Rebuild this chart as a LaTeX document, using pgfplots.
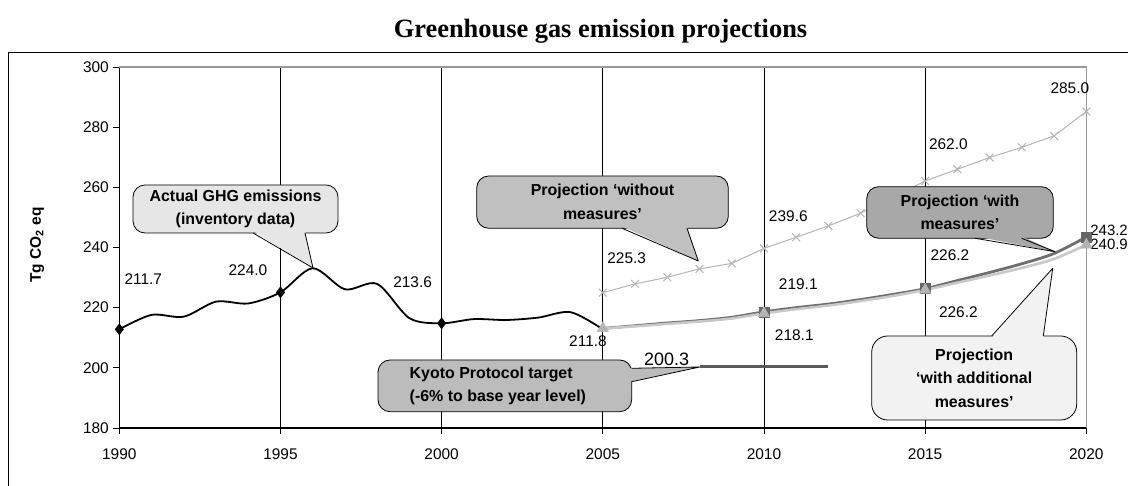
\documentclass[border=0pt]{standalone}
\usepackage{pgfplots}
\pgfplotsset{compat=1.18}
\usepackage{pgfplotstable}
\usepackage{fontspec}
\setmainfont{Liberation Sans}
\newfontfamily\titlefont{Liberation Serif}
\definecolor{nomcol}{HTML}{B4B4B4}
\definecolor{wmcol}{HTML}{6E6E6E}
\definecolor{wmmark}{HTML}{666666}
\definecolor{wamcol}{HTML}{C8C8C8}
\definecolor{wammark}{HTML}{B4B4B4}
\definecolor{kyotocol}{HTML}{5A5A5A}
\definecolor{bordergray}{HTML}{999999}
\definecolor{cActual}{HTML}{E6E6E6}
\definecolor{cWithout}{HTML}{C0C0C0}
\definecolor{cWM}{HTML}{A8A8A8}
\definecolor{cWAM}{HTML}{F2F2F2}
\definecolor{cKyoto}{HTML}{BCBCBC}

\pgfplotstableread{
year val
1990 212.8
1991 217.6
1992 217.0
1993 222.0
1994 221.4
1995 225.1
1996 233.1
1997 226.1
1998 227.9
1999 216.5
2000 214.8
2001 216.2
2002 215.9
2003 216.7
2004 218.5
2005 212.8
}\actual

\pgfplotstableread{
year val
2005 225.0
2006 227.9
2007 230.1
2008 232.9
2009 234.7
2010 239.7
2011 243.4
2012 247.2
2013 251.4
2014 256.7
2015 262.1
2016 266.0
2017 269.9
2018 273.3
2019 277.1
2020 285.2
}\without

\pgfplotstableread{
year val
2005 213.1
2006 214.0
2007 214.9
2008 215.7
2009 216.8
2010 218.6
2011 220.0
2012 221.2
2013 222.7
2014 224.4
2015 226.3
2016 229.0
2017 231.7
2018 234.6
2019 238.0
2020 243.5
}\wm

\pgfplotstableread{
year val
2005 213.1
2006 213.8
2007 214.6
2008 215.4
2009 216.4
2010 218.1
2011 219.5
2012 220.7
2013 222.2
2014 223.9
2015 225.9
2016 228.3
2017 230.7
2018 233.2
2019 236.2
2020 240.9
}\wam

\begin{document}
\begin{tikzpicture}[x=1bp,y=1bp]
\useasboundingbox (0,0) rectangle (1128,486);
\begin{axis}[
  scale only axis, width=967bp, height=361bp,
  at={(119.3bp,58bp)}, anchor=south west,
  xmin=1990, xmax=2020, ymin=180, ymax=300,
  xtick={1990,1995,...,2020}, ytick={180,200,...,300},
  axis lines=left, axis line style={-, black, line width=1.1bp},
  tick align=outside, major tick length=6bp,
  tick style={black, line width=0.9bp},
  xmajorgrids, major grid style={black, line width=0.8bp},
  /pgf/number format/1000 sep={},
  /pgf/number format/assume math mode=true,
  /pgf/number format/fixed,
  ticklabel style={font=\fontsize{15.5}{18}\selectfont},
  xticklabel style={yshift=-11bp},
  yticklabel style={xshift=-1bp},
  clip=false,
]
\draw[bordergray, line width=1.2bp] (axis cs:1990,300) -- (axis cs:2020,300) -- (axis cs:2020,180);

\addplot[black, line width=1.8bp, smooth, mark=diamond*, mark size=4.5bp,
  mark indices={1,6,11}, mark options={fill=black}] table[x=year,y=val] {\actual};

\addplot[nomcol, line width=1bp, mark=x, mark size=5.5bp,
  mark options={line width=1bp}] table[x=year,y=val] {\without};

\addplot[wmcol, line width=2.8bp, smooth, mark=square*, mark size=5bp,
  mark indices={6,11,16}, mark options={fill=wmmark, draw=wmmark, line width=0.5bp}]
  table[x=year,y=val] {\wm};

\addplot[wamcol, line width=2.6bp, smooth, mark=triangle*, mark size=6.5bp,
  mark indices={1,6,11,16}, mark options={fill=wammark, draw=wammark, line width=0.5bp}]
  table[x=year,y=val] {\wam};

\addplot[kyotocol, line width=3bp] coordinates {(2008,200.3) (2012,200.3)};

\begin{scope}[font=\fontsize{15.5}{18}\selectfont]
\node at (axis cs:1990.745,229.43) {211.7};
\node at (axis cs:1993.99,232.52) {224.0};
\node at (axis cs:1999.10,228.43) {213.6};
\node at (axis cs:2004.54,209.02) {211.8};
\node at (axis cs:2005.74,236.41) {225.3};
\node[font=\fontsize{18}{20}\selectfont] at (axis cs:2006.98,202.84) {200.3};
\node at (axis cs:2010.755,250.57) {239.6};
\node at (axis cs:2011.065,227.87) {219.1};
\node at (axis cs:2010.94,210.82) {218.1};
\node at (axis cs:2015.72,274.31) {262.0};
\node at (axis cs:2019.49,292.92) {285.0};
\node at (axis cs:2015.77,237.51) {226.2};
\node at (axis cs:2016.03,218.66) {226.2};
\node[anchor=west, inner sep=0pt, font=\fontsize{15}{18}\selectfont] at (axis cs:2020.12,245.82) {243.2};
\node[anchor=west, inner sep=0pt, font=\fontsize{15}{18}\selectfont] at (axis cs:2020.12,240.9) {240.9};
\end{scope}
\end{axis}

\begin{scope}[shift={(0pt,486bp)}, x=1bp, y=-1bp, line width=0.8bp, line join=round]
% outer frame
\draw[line width=1.2bp] (8.5,495) -- (8.5,52.7) -- (1140,52.7);
% title
\node[font=\titlefont\bfseries\fontsize{26.5}{30}\selectfont, anchor=base] at (600.5,37.5) {Greenhouse gas emission projections};
% y label
\node[rotate=90, font=\bfseries\fontsize{15.5}{18}\selectfont] at (37,245) {Tg CO\textsubscript{2} eq};

\begin{scope}[font=\bfseries\fontsize{16}{23.5}\selectfont]
% Actual
\draw[fill=cActual, rounded corners=12bp] (133,185) rectangle (338,233);
\fill[cActual] (253,231) -- (313,268) -- (305,231) -- cycle;
\draw (253,233) -- (313,268) -- (305,233);
\node[align=center] at (235.5,209) {Actual GHG emissions\\(inventory data)};
% Without
\draw[fill=cWithout, rounded corners=12bp] (476.7,176) rectangle (728.3,228.3);
\fill[cWithout] (622,226.3) -- (698.3,261) -- (687,226.3) -- cycle;
\draw (622,228.3) -- (698.3,261) -- (687,228.3);
\node[align=center] at (602.5,202) {Projection ‘without\\measures’};
% WM
\draw[fill=cWM, rounded corners=12bp] (866.7,186.7) rectangle (1053.3,238.3);
\fill[cWM] (975,236.3) -- (1055,251.7) -- (1021.7,236.3) -- cycle;
\draw (975,238.3) -- (1055,251.7) -- (1021.7,238.3);
\node[align=center] at (960,212.5) {Projection ‘with\\measures’};
% WAM
\draw[fill=cWAM, rounded corners=16bp] (871.7,336) rectangle (1076.7,420);
\fill[cWAM] (991.7,338) -- (1052.7,268.3) -- (1043.3,338) -- cycle;
\draw (991.7,336) -- (1052.7,268.3) -- (1043.3,336);
\node[align=center] at (974.2,378) {Projection\\‘with additional\\measures’};
% Kyoto
\draw[fill=cKyoto, rounded corners=12bp] (378,360) rectangle (631.7,411.7);
\fill[cKyoto] (629.7,368.3) -- (699.8,367) -- (629.7,381.7) -- cycle;
\draw (631.7,368.3) -- (699.8,367) -- (631.7,381.7);
\node[align=left, anchor=west] at (406,386) {Kyoto Protocol target\\(-6\% to base year level)};
\end{scope}
\end{scope}
\end{tikzpicture}
\end{document}
